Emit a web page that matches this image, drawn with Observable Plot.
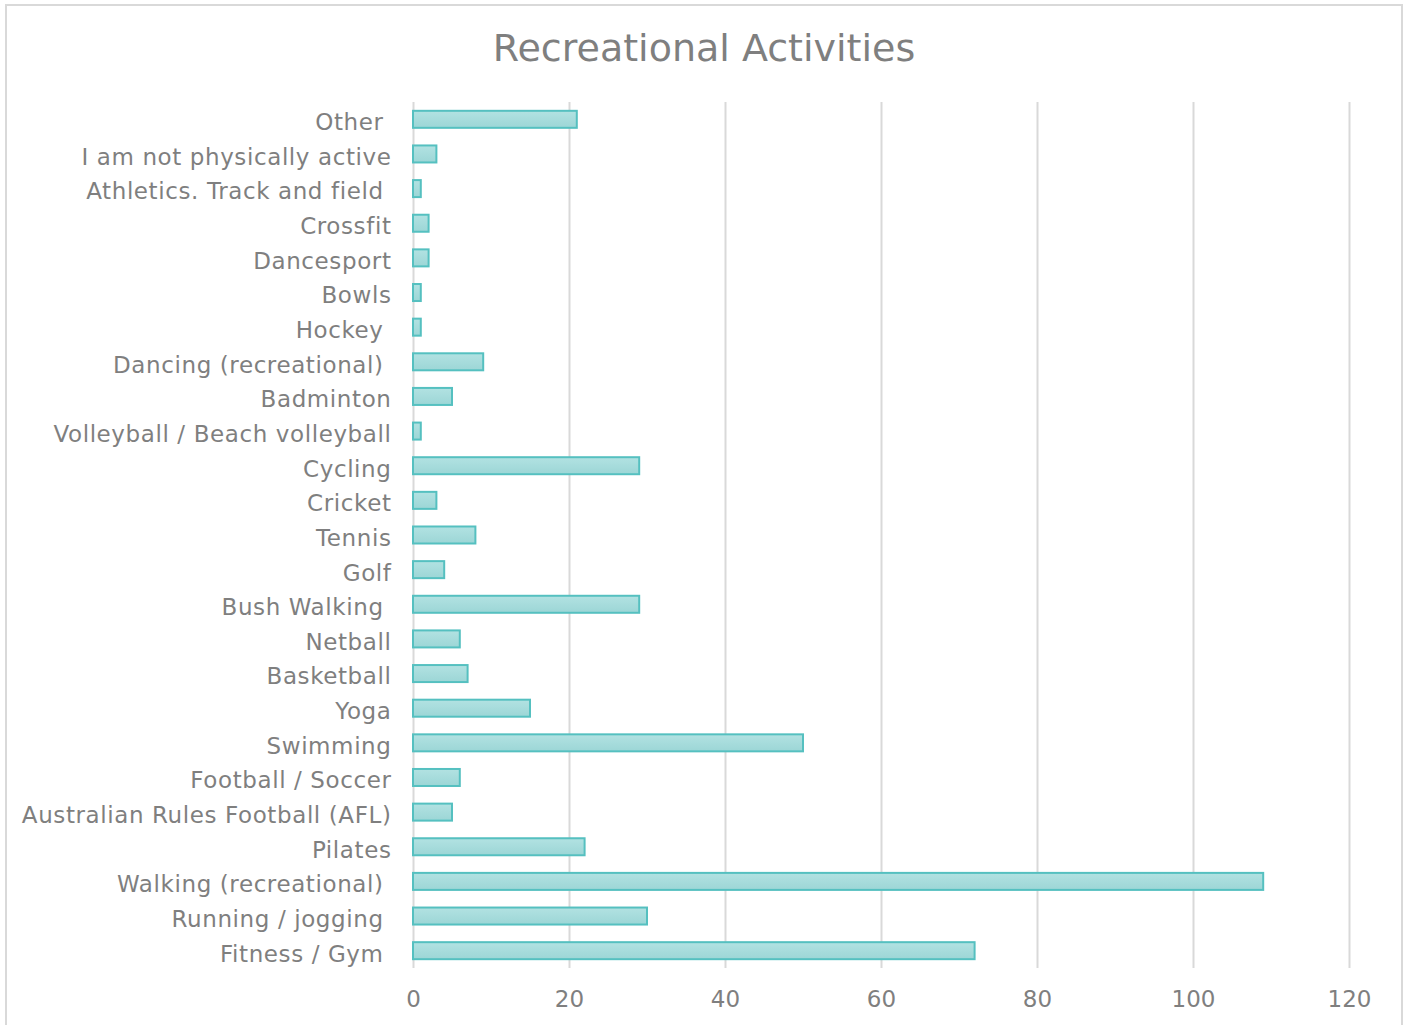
<!DOCTYPE html>
<html>
<head>
<meta charset="utf-8">
<script src="https://cdn.jsdelivr.net/npm/d3@7"></script>
<script src="https://cdn.jsdelivr.net/npm/@observablehq/plot@0.6"></script>
<style>
  html, body { margin: 0; padding: 0; background: #fff; overflow: hidden; }
  #frame { position: absolute; left: 5px; top: 4px; width: 1398px; height: 1040px; border: 2px solid #d9d9d9; box-sizing: border-box; }
  #title { position: absolute; left: 0; top: 24px; width: 1408px; text-align: center; font-family: "DejaVu Sans", Verdana, sans-serif; font-size: 38px; color: #7f7f7f; line-height: 48px; }
  #chart { position: absolute; left: 0; top: 0; }
  #chart svg text { white-space: pre; }
  #chart svg [aria-label="y-axis tick label"] text { letter-spacing: 0.6px; }
</style>
</head>
<body>
<div id="frame"></div>
<div id="title">Recreational Activities</div>
<div id="chart"></div>
<script>
const categories = [
  "Other ",
  "I am not physically active",
  "Athletics. Track and field ",
  "Crossfit",
  "Dancesport",
  "Bowls",
  "Hockey ",
  "Dancing (recreational) ",
  "Badminton",
  "Volleyball / Beach volleyball",
  "Cycling",
  "Cricket",
  "Tennis",
  "Golf",
  "Bush Walking ",
  "Netball",
  "Basketball",
  "Yoga",
  "Swimming",
  "Football / Soccer",
  "Australian Rules Football (AFL)",
  "Pilates",
  "Walking (recreational) ",
  "Running / jogging ",
  "Fitness / Gym "
];
const counts = [21, 3, 1, 2, 2, 1, 1, 9, 5, 1, 29, 3, 8, 4, 29, 6, 7, 15, 50, 6, 5, 22, 109, 30, 72];
const xTicks = [0, 20, 40, 60, 80, 100, 120];

const data = categories.map((c, i) => ({activity: c, count: counts[i]}));

const defs = () => {
  const d = d3.create("svg:defs");
  const g = d.append("linearGradient").attr("id", "barGrad").attr("x1", 0).attr("y1", 0).attr("x2", 0).attr("y2", 1);
  g.append("stop").attr("offset", "0%").attr("stop-color", "#b2e2e2");
  g.append("stop").attr("offset", "100%").attr("stop-color", "#9cd6d6");
  return d.node();
};

const chart = Plot.plot({
  width: 1408,
  height: 1025,
  marginLeft: 413,
  marginRight: 59,
  marginTop: 102,
  marginBottom: 57,
  style: {fontFamily: "'DejaVu Sans', Verdana, sans-serif", fontSize: "23px", color: "#7f7f7f", background: "transparent", overflow: "visible"},
  x: {domain: [0, 120], ticks: xTicks, label: null, round: false},
  y: {domain: categories, paddingInner: 0.48, paddingOuter: 0.24, label: null, round: false},
  marks: [
    defs,
    Plot.ruleX(xTicks, {stroke: "#d9d9d9", strokeWidth: 2, strokeOpacity: 1}),
    Plot.barX(data, {x: "count", y: "activity", fill: "url(#barGrad)", stroke: "#55c0c0", strokeWidth: 2, insetTop: 0.5, insetBottom: 0.5}),
    Plot.axisX(xTicks, {tickSize: 0, tickPadding: 22, fontSize: 23, fill: "#7f7f7f", label: null}),
    Plot.axisY({tickSize: 0, tickPadding: 22, dy: 3, fontSize: 23, fill: "#7f7f7f", label: null})
  ]
});
document.getElementById("chart").appendChild(chart);
</script>
</body>
</html>
